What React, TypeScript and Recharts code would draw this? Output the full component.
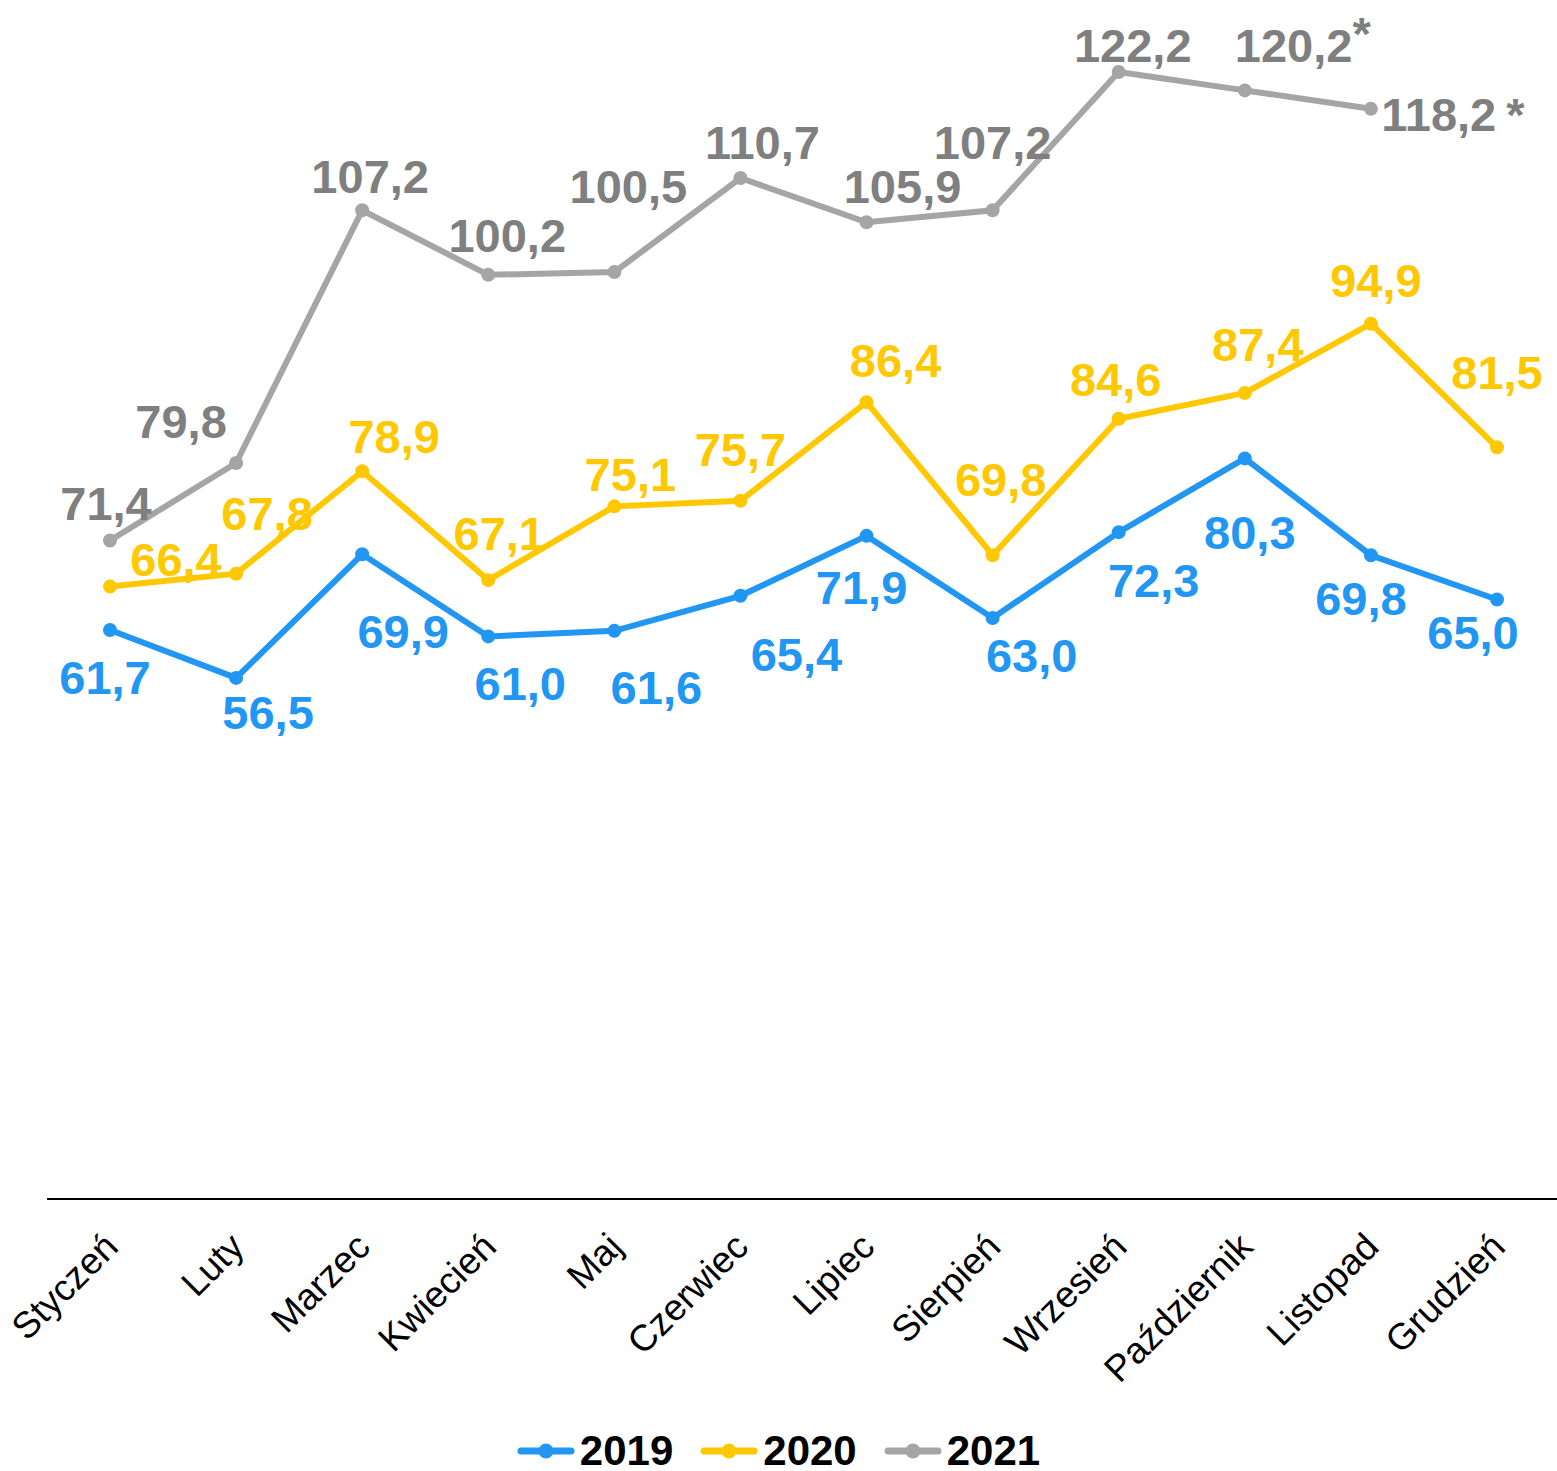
import { LineChart, Line, XAxis, YAxis, Legend, LabelList } from "recharts";

// data
const months = [
  "Styczeń", "Luty", "Marzec", "Kwiecień", "Maj", "Czerwiec",
  "Lipiec", "Sierpień", "Wrzesień", "Październik", "Listopad", "Grudzień",
];
const values2019 = [61.7, 56.5, 69.9, 61.0, 61.6, 65.4, 71.9, 63.0, 72.3, 80.3, 69.8, 65.0];
const values2020 = [66.4, 67.8, 78.9, 67.1, 75.1, 75.7, 86.4, 69.8, 84.6, 87.4, 94.9, 81.5];
const values2021 = [71.4, 79.8, 107.2, 100.2, 100.5, 110.7, 105.9, 107.2, 122.2, 120.2, 118.2, null];
const notes2021 = ["", "", "", "", "", "", "", "", "", "*", "*", ""];

// label placement (offset of label centre from its point), layout only
const shift2019 = [[-5, 47], [32, 34], [41, 77], [32, 47], [42, 56], [56, 58], [-5, 51], [39, 37], [35, 48], [5, 74], [-10, 43], [-24, 32]];
const shift2020 = [[66, -28], [31, -61], [32, -35], [11, -47], [16, -32], [0, -52], [29, -42], [8, -76], [-3, -40], [13, -49], [5, -44], [0, -75]];
const shift2021 = [[-4, -37], [-55, -42], [8, -34], [19, -40], [14, -86], [22, -36], [36, -36], [0, -68], [14, -27], [58, -45], [82, 5], [0, 0]];

const data = months.map((m, i) => ({
  month: m,
  y2019: values2019[i],
  y2020: values2020[i],
  y2021: values2021[i],
}));

const FONT = '"Liberation Sans", Arial, sans-serif';
const BLUE = "#2196F3";
const YELLOW = "#FFC800";
const GREY = "#A5A5A5";
const GREY_TEXT = "#7F7F7F";

const fmt = (v: number) => v.toFixed(1).replace(".", ",");

function makeLabel(shift: number[][], color: string, notes?: string[]) {
  return (props: any) => {
    const { x, y, value, index } = props;
    if (value == null) return null;
    const [dx, dy] = shift[index];
    const note = notes ? notes[index] : "";
    const raised = index === 9;
    return (
      <text
        x={x + dx}
        y={y + dy + 17}
        textAnchor="middle"
        fill={color}
        style={{ fontFamily: FONT, fontSize: 47, fontWeight: 700 }}
      >
        {fmt(value)}
        {note && (raised
          ? <tspan dy={-12}>{note}</tspan>
          : <tspan dx={10}>{note}</tspan>)}
      </text>
    );
  };
}

function MonthTick({ x, y, payload }: any) {
  return (
    <g transform={`translate(${x + 10},${y + 42})`}>
      <text
        transform="rotate(-45)"
        textAnchor="end"
        fill="#000"
        style={{ fontFamily: FONT, fontSize: 37 }}
      >
        {payload.value}
      </text>
    </g>
  );
}

function YearLegend({ payload }: any) {
  return (
    <div
      style={{
        display: "flex", justifyContent: "center", gap: 27,
        height: 60, paddingTop: 20, boxSizing: "border-box",
      }}
    >
      {(payload || []).map((p: any) => (
        <div key={p.value} style={{ display: "flex", alignItems: "center", gap: 5 }}>
          <svg width={58} height={18}>
            <line x1={4} y1={9} x2={54} y2={9} stroke={p.color} strokeWidth={7} strokeLinecap="round" />
            <circle cx={29} cy={9} r={7.5} fill={p.color} />
          </svg>
          <span style={{ fontFamily: FONT, fontSize: 42, fontWeight: 700, lineHeight: "40px", color: "#000" }}>
            {p.value}
          </span>
        </div>
      ))}
    </div>
  );
}

export default function App() {
  return (
    <div style={{ position: "absolute", left: 0, top: 0, background: "#fff" }}>
      <LineChart width={1557} height={1471} data={data} margin={{ top: 0, right: 0, left: 47, bottom: 0 }}>
        <XAxis
          dataKey="month"
          interval={0}
          tickLine={false}
          axisLine={{ stroke: "#000", strokeWidth: 2 }}
          tick={<MonthTick />}
          height={212}
          padding={{ left: 63, right: 60 }}
        />
        <YAxis hide domain={[0, 130]} />
        <Legend
          verticalAlign="bottom"
          content={<YearLegend />}
          wrapperStyle={{ left: 0, width: 1557, bottom: 0 }}
        />
        <Line
          dataKey="y2019" name="2019" stroke={BLUE} strokeWidth={6}
          dot={{ r: 6, fill: BLUE, stroke: BLUE, strokeWidth: 2 }}
          activeDot={false} isAnimationActive={false}
        >
          <LabelList dataKey="y2019" content={makeLabel(shift2019, BLUE)} />
        </Line>
        <Line
          dataKey="y2020" name="2020" stroke={YELLOW} strokeWidth={6}
          dot={{ r: 6, fill: YELLOW, stroke: YELLOW, strokeWidth: 2 }}
          activeDot={false} isAnimationActive={false}
        >
          <LabelList dataKey="y2020" content={makeLabel(shift2020, YELLOW)} />
        </Line>
        <Line
          dataKey="y2021" name="2021" stroke={GREY} strokeWidth={6}
          dot={{ r: 6, fill: GREY, stroke: GREY, strokeWidth: 2 }}
          activeDot={false} isAnimationActive={false}
        >
          <LabelList dataKey="y2021" content={makeLabel(shift2021, GREY_TEXT, notes2021)} />
        </Line>
      </LineChart>
    </div>
  );
}
